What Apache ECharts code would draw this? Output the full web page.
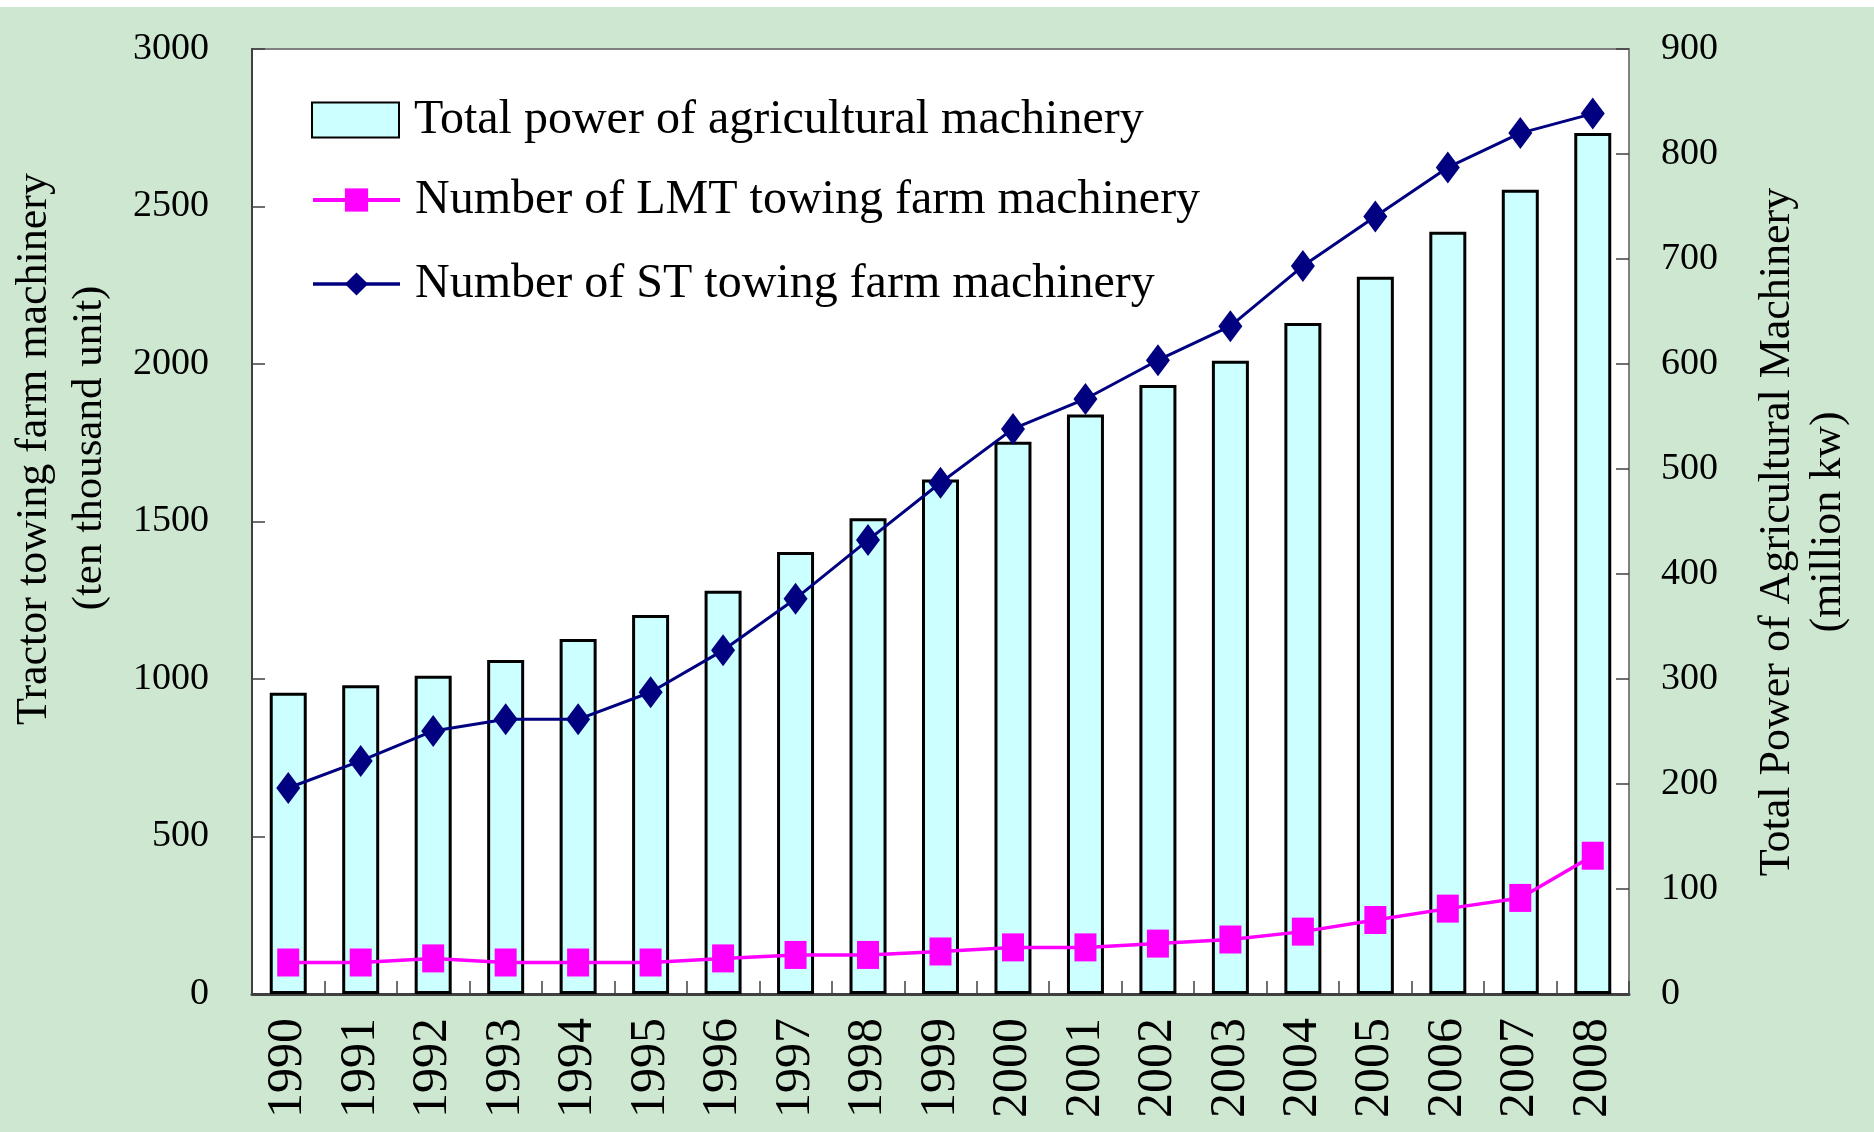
<!DOCTYPE html>
<html>
<head>
<meta charset="utf-8">
<script src="https://cdn.jsdelivr.net/npm/echarts@6.0.0/dist/echarts.min.js"></script>
<style>
html,body{margin:0;padding:0;background:#ffffff;}
#chart{width:1874px;height:1132px;}
</style>
</head>
<body>
<div id="chart"></div>
<script>
const years = ['1990','1991','1992','1993','1994','1995','1996','1997','1998','1999','2000','2001','2002','2003','2004','2005','2006','2007','2008'];
// Total power of agricultural machinery (million kw) - right axis
const totalPower = [287, 294, 303, 318, 338, 361, 384, 421, 453, 490, 526, 552, 580, 603, 639, 683, 726, 766, 820];
// Number of LMT towing farm machinery (ten thousand unit) - left axis
const lmtTowing = [100, 100, 113, 100, 100, 100, 113, 124, 124, 135, 148, 148, 160, 173, 198, 235, 271, 305, 439];
// Number of ST towing farm machinery (ten thousand unit) - left axis
const stTowing = [654, 740, 835, 872, 872, 958, 1091, 1255, 1441, 1623, 1794, 1889, 2012, 2120, 2311, 2468, 2624, 2733, 2795];

const leftTicks = {min: 0, max: 3000, interval: 500};
const rightTicks = {min: 0, max: 900, interval: 100};

const FONT = '"Liberation Serif", "Times New Roman", serif';
const chart = echarts.init(document.getElementById('chart'), null, {renderer: 'canvas'});

const legendText = {fontFamily: FONT, fontSize: 48, color: '#000', lineHeight: 48, padding: [0,0,0,10]};

const option = {
  backgroundColor: '#cde7d0',
  animation: false,
  grid: {
    left: 252, right: 245, top: 49, bottom: 138,
    show: true, backgroundColor: '#ffffff', borderColor: '#808080', borderWidth: 2
  },
  legend: [
    {
      orient: 'vertical', left: 311, top: 96, padding: 0,
      itemWidth: 87, itemHeight: 35, itemGap: 36,
      data: [{name: 'Total power of agricultural machinery', icon: 'rect'}],
      textStyle: legendText,
      selectedMode: false
    },
    {
      orient: 'vertical', left: 311, top: 176, padding: 0,
      itemWidth: 87, itemHeight: 29, itemGap: 36,
      data: [
        {name: 'Number of LMT towing farm machinery', lineStyle: {width: 4}},
        {name: 'Number of ST towing farm machinery', lineStyle: {width: 3.5}}
      ],
      textStyle: legendText,
      selectedMode: false
    }
  ],
  xAxis: {
    type: 'category',
    data: years,
    boundaryGap: true,
    axisLine: {show: true, lineStyle: {color: '#404040', width: 3}},
    axisTick: {show: true, inside: true, length: 13, lineStyle: {color: '#404040', width: 1.5}},
    axisLabel: {rotate: 90, margin: 24, fontFamily: FONT, fontSize: 50, color: '#000', interval: 0}
  },
  yAxis: [
    {
      type: 'value', position: 'left',
      min: leftTicks.min, max: leftTicks.max, interval: leftTicks.interval,
      axisLine: {show: true, lineStyle: {color: '#404040', width: 2}},
      axisTick: {show: true, inside: true, length: 13, lineStyle: {color: '#404040', width: 1.5}},
      axisLabel: {margin: 43, fontFamily: FONT, fontSize: 38, color: '#000', formatter: function (v) { return String(v); }},
      splitLine: {show: false}
    },
    {
      type: 'value', position: 'right',
      min: rightTicks.min, max: rightTicks.max, interval: rightTicks.interval,
      axisLine: {show: true, lineStyle: {color: '#808080', width: 2}},
      axisTick: {show: true, inside: true, length: 13, lineStyle: {color: '#404040', width: 1.5}},
      axisLabel: {margin: 32, fontFamily: FONT, fontSize: 38, color: '#000', formatter: function (v) { return String(v); }},
      splitLine: {show: false}
    }
  ],
  series: [
    {
      name: 'Total power of agricultural machinery',
      type: 'bar', yAxisIndex: 1,
      data: totalPower,
      barWidth: 37,
      itemStyle: {color: '#ccffff', borderColor: '#000000', borderWidth: 3},
      z: 2
    },
    {
      name: 'Number of LMT towing farm machinery',
      type: 'line', yAxisIndex: 0,
      data: lmtTowing,
      symbol: 'rect', symbolSize: [22, 28],
      lineStyle: {color: '#ff00ff', width: 3.5},
      itemStyle: {color: '#ff00ff'},
      z: 4
    },
    {
      name: 'Number of ST towing farm machinery',
      type: 'line', yAxisIndex: 0,
      data: stTowing,
      symbol: 'diamond', symbolSize: [24, 32],
      lineStyle: {color: '#000080', width: 3},
      itemStyle: {color: '#000080'},
      z: 5
    }
  ],
  graphic: [
    {type: 'rect', left: 0, top: 0, shape: {width: 1874, height: 7}, style: {fill: '#ffffff'}, silent: true},
    {type: 'text', x: 34, y: 449, rotation: Math.PI / 2,
      style: {text: 'Tractor towing farm machinery', font: '44px ' + FONT, fill: '#000', textAlign: 'center', textVerticalAlign: 'middle'}},
    {type: 'text', x: 90, y: 448, rotation: Math.PI / 2,
      style: {text: '(ten thousand unit)', font: '43px ' + FONT, fill: '#000', textAlign: 'center', textVerticalAlign: 'middle'}},
    {type: 'text', x: 1777, y: 532, rotation: Math.PI / 2,
      style: {text: 'Total Power of Agricultural Machinery', font: '44px ' + FONT, fill: '#000', textAlign: 'center', textVerticalAlign: 'middle'}},
    {type: 'text', x: 1828, y: 522, rotation: Math.PI / 2,
      style: {text: '(million kw)', font: '44px ' + FONT, fill: '#000', textAlign: 'center', textVerticalAlign: 'middle'}}
  ]
};
chart.setOption(option);
</script>
</body>
</html>
